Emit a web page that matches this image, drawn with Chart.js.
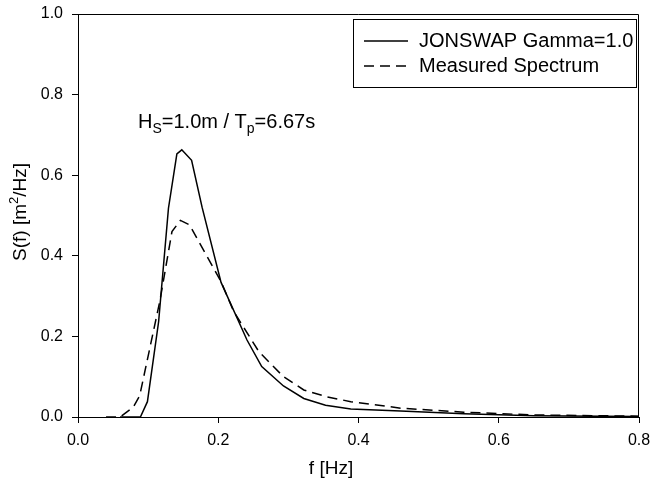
<!DOCTYPE html>
<html>
<head>
<meta charset="utf-8">
<script src="https://cdn.jsdelivr.net/npm/chart.js@4.4.0/dist/chart.umd.min.js"></script>
<style>
  html, body { margin: 0; padding: 0; background: #fff; }
  #wrap { width: 650px; height: 486px; }
</style>
</head>
<body>
<div id="wrap"><canvas id="spectrum-chart" width="650" height="486"></canvas></div>
<script>
Chart.defaults.font.family = '"Liberation Sans", Arial, sans-serif';
Chart.defaults.color = '#000';

// JONSWAP target spectrum (gamma = 1.0)
var jonswapFreq = [0.06, 0.089, 0.099, 0.115, 0.129, 0.141, 0.148, 0.162, 0.177, 0.204, 0.241, 0.262, 0.293, 0.322, 0.353, 0.389, 0.46, 0.55, 0.65, 0.8];
var jonswapS    = [0, 0, 0.038, 0.237, 0.518, 0.653, 0.663, 0.637, 0.52, 0.334, 0.191, 0.125, 0.077, 0.046, 0.029, 0.020, 0.015, 0.008, 0.003, 0.001];

// measured spectrum
var measuredFreq = [0.04, 0.06, 0.079, 0.088, 0.117, 0.134, 0.146, 0.159, 0.204, 0.222, 0.258, 0.293, 0.322, 0.355, 0.389, 0.46, 0.55, 0.65, 0.8];
var measuredS    = [0, 0, 0.025, 0.053, 0.29, 0.46, 0.488, 0.477, 0.336, 0.262, 0.162, 0.100, 0.067, 0.050, 0.038, 0.022, 0.012, 0.005, 0.002];

var xTicks = [0, 0.2, 0.4, 0.6, 0.8];
var yTicks = [0, 0.2, 0.4, 0.6, 0.8, 1.0];

var seriesLabels = ['JONSWAP Gamma=1.0', 'Measured Spectrum'];

function toPoints(xs, ys) {
	var pts = [];
	for (var i = 0; i < xs.length; i++) {
		pts.push({ x: xs[i], y: ys[i] });
	}
	return pts;
}

// frame, axis titles, wave annotation and boxed legend
var decorPlugin = {
	id: 'decor',
	afterDraw: function(chart) {
		var ctx = chart.ctx;
		var area = chart.chartArea;
		var font = '"Liberation Sans", Arial, sans-serif';
		ctx.save();
		ctx.strokeStyle = '#000';
		ctx.lineWidth = 1;
		ctx.beginPath();
		ctx.moveTo(area.left, area.top + 0.5);
		ctx.lineTo(area.right - 0.5, area.top + 0.5);
		ctx.lineTo(area.right - 0.5, area.bottom);
		ctx.stroke();

		ctx.fillStyle = '#000';
		ctx.textBaseline = 'middle';

		// x title
		ctx.font = '19px ' + font;
		ctx.textAlign = 'center';
		ctx.fillText('f [Hz]', 331, 469);

		// y title with superscript
		ctx.save();
		ctx.translate(19, 212);
		ctx.rotate(-Math.PI / 2);
		var partA = 'S(f) [m', partB = '2', partC = '/Hz]';
		ctx.font = '19px ' + font;
		var wA = ctx.measureText(partA).width, wC = ctx.measureText(partC).width;
		ctx.font = '13px ' + font;
		var wB = ctx.measureText(partB).width;
		var x0 = -(wA + wB + wC) / 2;
		ctx.textAlign = 'left';
		ctx.textBaseline = 'alphabetic';
		ctx.font = '19px ' + font;
		ctx.fillText(partA, x0, 7);
		ctx.font = '13px ' + font;
		ctx.fillText(partB, x0 + wA, -1);
		ctx.font = '19px ' + font;
		ctx.fillText(partC, x0 + wA + wB, 7);
		ctx.restore();

		// annotation: Hs / Tp
		var parts = [['H', 20, 0], ['S', 14, 5], ['=1.0m / T', 20, 0], ['p', 14, 5], ['=6.67s', 20, 0]];
		var ax = 138, baseY = 128;
		ctx.textAlign = 'left';
		ctx.textBaseline = 'alphabetic';
		parts.forEach(function(p) {
			ctx.font = p[1] + 'px ' + font;
			ctx.fillText(p[0], ax, baseY + p[2]);
			ax += ctx.measureText(p[0]).width;
		});

		// legend box
		ctx.lineWidth = 1;
		ctx.strokeRect(353.5, 19.5, 283, 68);
		var rows = [41, 66];
		chart.data.datasets.forEach(function(ds, i) {
			ctx.beginPath();
			ctx.lineWidth = ds.borderWidth;
			ctx.setLineDash(ds.borderDash || []);
			ctx.moveTo(364, rows[i]);
			ctx.lineTo(408, rows[i]);
			ctx.stroke();
			ctx.setLineDash([]);
			ctx.font = '20px ' + font;
			ctx.textBaseline = 'middle';
			ctx.fillText(ds.label, 419, rows[i]);
		});
		ctx.restore();
	}
};

var ctx = document.getElementById('spectrum-chart').getContext('2d');
var spectrumChart = new Chart(ctx, {
	type: 'scatter',
	data: {
		datasets: [
			{
				label: seriesLabels[0],
				data: toPoints(jonswapFreq, jonswapS),
				showLine: true,
				borderColor: '#000',
				borderWidth: 1.5,
				pointRadius: 0,
				tension: 0
			},
			{
				label: seriesLabels[1],
				data: toPoints(measuredFreq, measuredS),
				showLine: true,
				borderColor: '#000',
				borderWidth: 1.5,
				borderDash: [10, 6],
				pointRadius: 0,
				tension: 0
			}
		]
	},
	options: {
		responsive: false,
		animation: false,
		layout: { padding: { top: 14, right: 11, left: 0, bottom: 0 } },
		plugins: {
			legend: { display: false },
			tooltip: { enabled: false }
		},
		scales: {
			x: {
				type: 'linear',
				min: 0,
				max: 0.8,
				afterFit: function(scale) {
					scale.height = 69;
					scale.paddingLeft = 0;
					scale.paddingRight = 0;
				},
				afterBuildTicks: function(scale) {
					scale.ticks = xTicks.map(function(v) { return { value: v }; });
				},
				ticks: {
					font: { size: 16 },
					color: '#000',
					padding: 8,
					maxRotation: 0,
					callback: function(v) { return v.toFixed(1); }
				},
				grid: { drawOnChartArea: false, drawTicks: true, tickLength: 6, color: '#000' },
				border: { display: true, color: '#000', width: 1 }
			},
			y: {
				type: 'linear',
				min: 0,
				max: 1,
				afterFit: function(scale) {
					scale.width = 78;
					scale.paddingTop = 0;
					scale.paddingBottom = 0;
				},
				afterBuildTicks: function(scale) {
					scale.ticks = yTicks.map(function(v) { return { value: v }; });
				},
				ticks: {
					font: { size: 16 },
					color: '#000',
					padding: 9,
					callback: function(v) { return v.toFixed(1); }
				},
				grid: { drawOnChartArea: false, drawTicks: true, tickLength: 6, color: '#000' },
				border: { display: true, color: '#000', width: 1 }
			}
		}
	},
	plugins: [decorPlugin]
});
</script>
</body>
</html>
